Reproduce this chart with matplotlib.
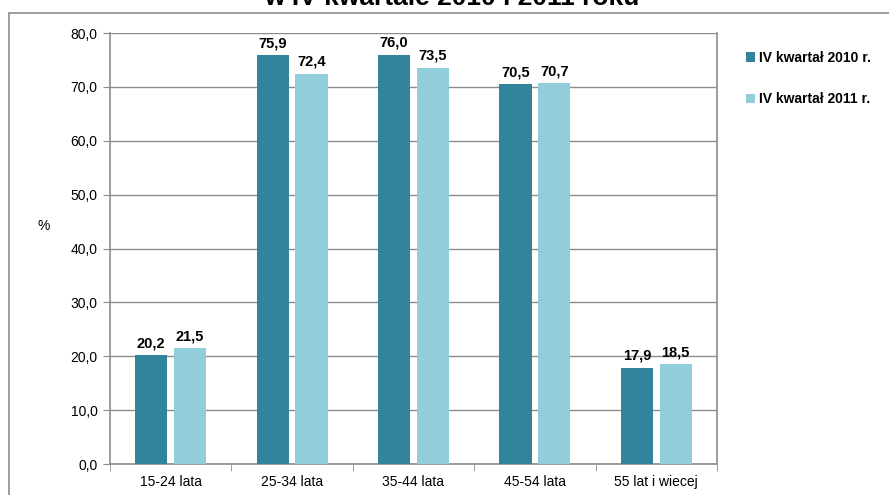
import matplotlib
matplotlib.use('Agg')
import matplotlib.pyplot as plt
import numpy as np
from matplotlib.patches import Rectangle

categories = ['15-24 lata', '25-34 lata', '35-44 lata', '45-54 lata', '55 lat i wiecej']
vals_2010 = [20.2, 75.9, 76.0, 70.5, 17.9]
vals_2011 = [21.5, 72.4, 73.5, 70.7, 18.5]
series_names = ['IV kwartał 2010 r.', 'IV kwartał 2011 r.']
title = 'w IV kwartale 2010 i 2011 roku'

c_dark = '#31849B'
c_light = '#92CDDC'
grid_c = '#8C8C8C'

plt.rcParams['font.family'] = ['Liberation Sans', 'DejaVu Sans']

fig = plt.figure(figsize=(8.89, 4.95), dpi=100)
W, H = 889, 495

# outer chart frame
fig.patches.append(Rectangle((9 / W, -0.1), 1.2, 1 - 13 / H + 0.1, transform=fig.transFigure,
                             fill=False, edgecolor=grid_c, linewidth=1.2))
fig.text(452 / W, 1 - 5 / H, title, ha='center', va='baseline', fontsize=19, fontweight='bold')

ax = fig.add_axes([110 / W, 1 - 464 / H, 607 / W, 431 / H])
x = np.arange(len(categories))
bw = 0.264
off = 0.16
b1 = ax.bar(x - off, vals_2010, bw, color=c_dark, label=series_names[0], zorder=3)
b2 = ax.bar(x + off, vals_2011, bw, color=c_light, label=series_names[1], zorder=3)

for bars in (b1, b2):
    for r in bars:
        ax.text(r.get_x() + r.get_width() / 2, r.get_height() + 1.5, f'{r.get_height():.1f}'.replace('.', ','),
                ha='center', va='baseline', fontsize=10.5, fontweight='bold')

ax.set_xlim(-0.5, len(categories) - 0.5)
ax.set_ylim(0, 80)
ax.set_yticks(np.arange(0, 81, 10))
ax.set_yticklabels([f'{v:.1f}'.replace('.', ',') for v in np.arange(0, 81, 10)], fontsize=10)
ax.set_xticks(x)
ax.set_xticklabels(categories, fontsize=10)
ax.set_xticks(np.arange(-0.5, len(categories)), minor=True)
ax.tick_params(axis='x', which='major', length=0, pad=8)
ax.tick_params(axis='x', which='minor', length=5, color=grid_c, direction='out')
ax.tick_params(axis='y', length=5, color=grid_c, direction='out', pad=4)
ax.grid(axis='y', color=grid_c, linewidth=1, zorder=0)
ax.set_axisbelow(True)
ax.spines['top'].set_visible(False)
for s in ['left', 'right', 'bottom']:
    ax.spines[s].set_color(grid_c)
    ax.spines[s].set_linewidth(1.2)
ax.set_ylabel('%', rotation=0, fontsize=10, labelpad=0)
ax.yaxis.set_label_coords(-0.11, 0.535)

leg = fig.legend(handles=[b1, b2], labels=series_names, loc='upper left',
                 bbox_to_anchor=(733 / W, 1 - 38 / H), frameon=False,
                 prop={'weight': 'bold', 'size': 10}, handlelength=0.7, handleheight=0.7,
                 handletextpad=0.3, labelspacing=2.0)

fig.savefig('out.png', dpi=100)
